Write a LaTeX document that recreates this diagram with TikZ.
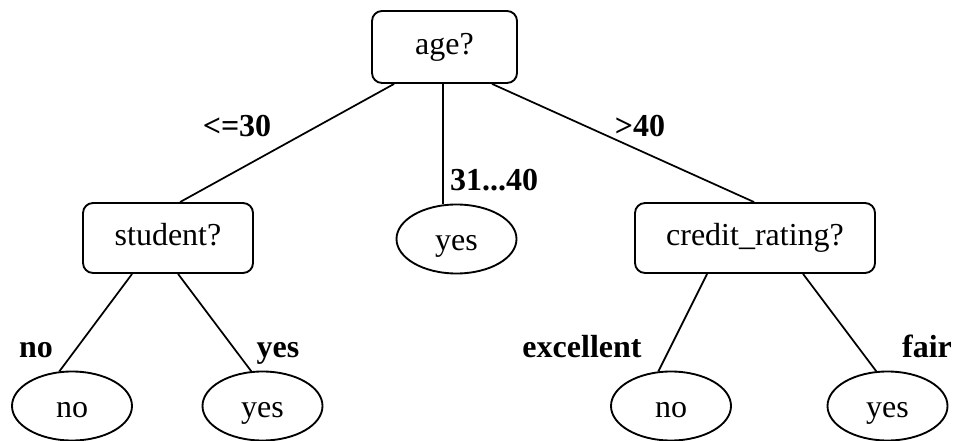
\documentclass[tikz,border=0pt]{standalone}
\usepackage{fontspec}
\setmainfont{Liberation Serif}
\usetikzlibrary{shapes.geometric,calc}

\begin{document}
\begin{tikzpicture}[x=0.75pt,y=-0.75pt,
  txt/.style={font=\fontsize{24}{28}\selectfont},
  decision/.style={txt, draw, rounded corners=7.5pt, line width=1.4pt, inner sep=0pt,
    text height=16pt, text depth=4pt},
  leaf/.style={txt, draw, ellipse, line width=1.4pt, inner sep=0pt,
    minimum width=90pt, minimum height=51.75pt, text height=17pt, text depth=0pt},
  branch/.style={font=\fontsize{24}{28}\selectfont\bfseries, anchor=base, inner sep=0pt},
  edge/.style={line width=1.3pt}]
\useasboundingbox (0,0) rectangle (955,441);

% test nodes
\node[decision, minimum width=108.75pt, minimum height=54pt] (age) at (444.5,47) {age?};
\node[decision, minimum width=127.5pt, minimum height=52.5pt] (student) at (168,238) {student?};
\node[leaf] (midyes) at (456.5,239) {yes};
\node[decision, minimum width=180pt, minimum height=52.5pt] (credit) at (755,238) {credit\_rating?};

% leaves
\node[leaf] (stuno) at (72,406) {no};
\node[leaf] (stuyes) at (262.5,406) {yes};
\node[leaf] (crno) at (671,406) {no};
\node[leaf] (cryes) at (887.5,406) {yes};

% branches
\draw[edge] ($(age.south west)+(23,0)$) -- ($(student.north west)+(98,0)$);
\draw[edge] (midyes.111 |- age.south) -- (midyes.111);
\draw[edge] ($(age.south west)+(121,0)$) -- ($(credit.north west)+(120,0)$);
\draw[edge] ($(student.south west)+(50,0)$) -- (stuno.110);
\draw[edge] ($(student.south west)+(96,0)$) -- (stuyes.108);
\draw[edge] ($(credit.south west)+(73,0)$) -- (crno.110);
\draw[edge] ($(credit.south west)+(169,0)$) -- (cryes.108);

% branch labels
\node[branch] (lyoung) at (237,137) {<=30};
\node[branch] (lmid) at (494,191) {31...40};
\node[branch] (lold) at (640,137) {>40};
\node[branch] (lsno) at (36,357) {no};
\node[branch] (lsyes) at (278,357) {yes};
\node[branch] (lexc) at (582,357) {excellent};
\node[branch] (lfair) at (927,357) {fair};
\end{tikzpicture}
\end{document}
